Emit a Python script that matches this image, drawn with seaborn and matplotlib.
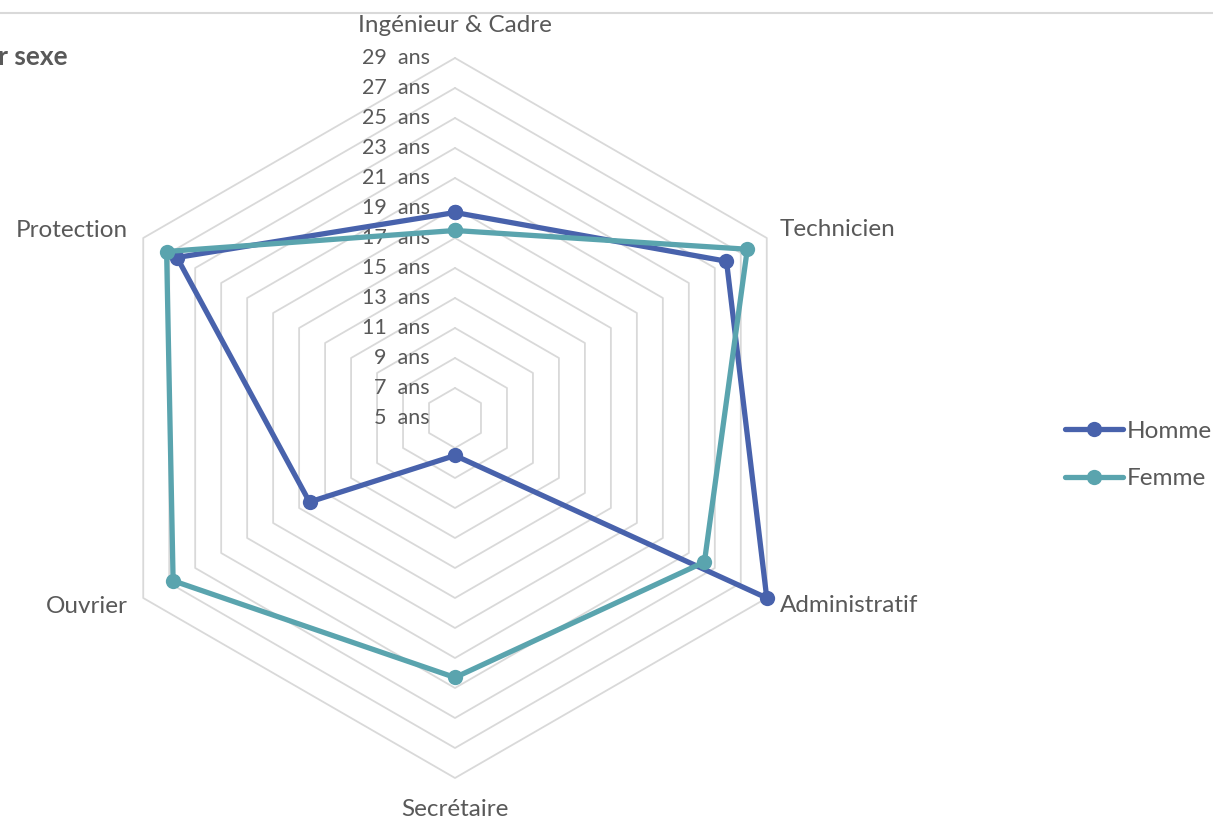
import numpy as np
import pandas as pd
import matplotlib
matplotlib.use("Agg")
import matplotlib.pyplot as plt
from matplotlib.lines import Line2D
import seaborn as sns

# données (âge moyen, en années)
categories = ["Ingénieur & Cadre", "Technicien", "Administratif",
              "Secrétaire", "Ouvrier", "Protection"]
age_homme = [18.7, 25.9, 29.0, 7.5, 16.2, 26.4]
age_femme = [17.5, 27.5, 24.2, 22.3, 26.7, 27.2]
series = ["Homme", "Femme"]
rings = list(range(5, 31, 2))          # 5 ans ... 29 ans
tick_labels = [f"{r}  ans" for r in rings]

couleurs = {"Homme": "#4862AC", "Femme": "#5AA4AE"}
gris_txt = "#595959"
gris_grille = "#D9D9D9"

sns.set_theme(style="white")
plt.rcParams["font.family"] = ["Lato", "DejaVu Sans"]

n = len(categories)
angles = np.linspace(0, 2 * np.pi, n, endpoint=False)
angles_ferme = np.append(angles, 2 * np.pi)

# tableau long pour seaborn (polygone fermé)
rows = []
for nom, vals in zip(series, [age_homme, age_femme]):
    vals_f = list(vals) + [vals[0]]
    for t, v in zip(angles_ferme, vals_f):
        rows.append({"theta": t, "age": v, "sexe": nom})
df = pd.DataFrame(rows)

fig = plt.figure(figsize=(12.13, 8.22), dpi=100)
W, H = 1213, 822
cx, cy, R = 455, 418, 360
ax = fig.add_axes([(cx - R) / W, (H - cy - R) / H, 2 * R / W, 2 * R / H],
                  projection="polar")
ax.set_theta_zero_location("N")
ax.set_theta_direction(-1)
ax.set_ylim(rings[0], rings[-1])
ax.grid(False)
ax.spines["polar"].set_visible(False)
ax.set_xticks([])
ax.set_yticks([])
ax.patch.set_alpha(0)

# grille hexagonale
for r in rings[1:]:
    ax.plot(angles_ferme, [r] * (n + 1), color=gris_grille, lw=1.3, zorder=1,
            clip_on=False)

sns.lineplot(data=df, x="theta", y="age", hue="sexe", palette=couleurs,
             sort=False, estimator=None, marker="o", markersize=11,
             markeredgewidth=0, linewidth=3.8, legend=False, ax=ax, zorder=3,
             clip_on=False)
ax.set_xlabel("")
ax.set_ylabel("")

# étiquettes de l'axe radial
for r, lab in zip(rings, tick_labels):
    ax.annotate(lab, xy=(0, r), xytext=(-25, 0), textcoords="offset pixels",
                ha="right", va="center", fontsize=15.5, color=gris_txt, zorder=2)

# étiquettes des catégories
offsets = [(0, 33, "center"), (13, 8, "left"), (13, -7, "left"),
           (0, -32, "center"), (-15, -8, "right"), (-15, 8, "right")]
for t, lab, (dx, dy, ha) in zip(angles, categories, offsets):
    ax.annotate(lab, xy=(t, rings[-1]), xytext=(dx, dy), textcoords="offset pixels",
                ha=ha, va="center", fontsize=17.5, color=gris_txt,
                annotation_clip=False)

# légende
handles = [Line2D([], [], color=couleurs[s], lw=3.8, marker="o", markersize=11,
                  markeredgewidth=0) for s in series]
fig.legend(handles, series, loc="center left", bbox_to_anchor=(1065 / W, 1 - 455 / H),
           frameon=False, fontsize=17.5, labelcolor=gris_txt, handlelength=2.4,
           handletextpad=0.15, labelspacing=1.1, borderaxespad=0, borderpad=0)

# titre (tronqué à gauche) et ligne du haut
fig.text(68 / W, 1 - 55 / H, "Âge moyen par catégorie et par sexe", ha="right",
         va="center", fontsize=19, fontweight="bold", color=gris_txt)
fig.add_artist(Line2D([0, 1], [1 - 13 / H, 1 - 13 / H], transform=fig.transFigure,
                      color=gris_grille, lw=1.5))

fig.savefig("out.png", dpi=100)
